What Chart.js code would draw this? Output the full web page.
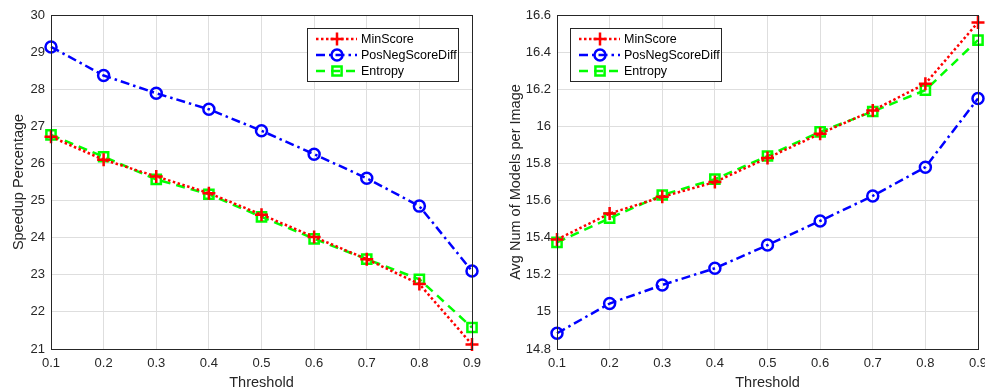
<!DOCTYPE html>
<html>
<head>
<meta charset="utf-8">
<script src="https://cdn.jsdelivr.net/npm/chart.js@4.4.1/dist/chart.umd.min.js"></script>
<style>
    html, body { margin: 0; padding: 0; background: #fff; overflow: hidden; width: 985px; height: 392px; }
    .panel { position: absolute; top: 0; width: 506px; height: 392px; }
    #leftPanel { left: 0; }
    #rightPanel { left: 506px; }
</style>
</head>
<body>
<div class="panel" id="leftPanel"><canvas id="speedupChart"></canvas></div>
<div class="panel" id="rightPanel"><canvas id="modelsChart"></canvas></div>
<script>
const thresholds = [0.1, 0.2, 0.3, 0.4, 0.5, 0.6, 0.7, 0.8, 0.9];
const seriesNames = ['MinScore', 'PosNegScoreDiff', 'Entropy'];

// Speedup Percentage
const speedupMinScore = [26.72, 26.10, 25.65, 25.20, 24.62, 24.02, 23.42, 22.75, 21.12];
const speedupPosNeg = [29.14, 28.37, 27.89, 27.46, 26.88, 26.25, 25.60, 24.85, 23.10];
const speedupEntropy = [26.77, 26.18, 25.57, 25.17, 24.56, 23.97, 23.42, 22.88, 21.58];

// Avg Num of Models per Image
const modelsMinScore = [15.39, 15.53, 15.62, 15.70, 15.83, 15.96, 16.085, 16.23, 16.56];
const modelsPosNeg = [14.885, 15.045, 15.145, 15.235, 15.36, 15.49, 15.625, 15.78, 16.15];
const modelsEntropy = [15.375, 15.505, 15.63, 15.715, 15.84, 15.97, 16.08, 16.195, 16.465];

const xTicks = [0.1, 0.2, 0.3, 0.4, 0.5, 0.6, 0.7, 0.8, 0.9];
const speedupTicks = [21, 22, 23, 24, 25, 26, 27, 28, 29, 30];
const modelsTicks = [14.8, 15, 15.2, 15.4, 15.6, 15.8, 16, 16.2, 16.4, 16.6];

const FONT = "'Liberation Sans', Arial, sans-serif";
const AXIS_COLOR = '#262626';

const styles = [
    { color: '#ff0000', dash: [2.5, 2.5], pointStyle: 'cross', radius: 6.5 },
    { color: '#0000ff', dash: [9, 4, 2.5, 4], pointStyle: 'circle', radius: 5.5 },
    { color: '#00ff00', dash: [9, 6], pointStyle: 'rect', radius: 6.5 }
];

function makeDatasets(valuesList) {
    return valuesList.map((values, i) => ({
        label: seriesNames[i],
        data: values.map((v, k) => ({ x: thresholds[k], y: v })),
        borderColor: styles[i].color,
        borderWidth: 2.5,
        borderDash: styles[i].dash,
        pointStyle: styles[i].pointStyle,
        pointRadius: styles[i].radius,
        pointBorderWidth: 2.5,
        pointBackgroundColor: 'rgba(0,0,0,0)',
        pointBorderColor: styles[i].color,
        tension: 0,
        fill: false,
        clip: false
    }));
}

function legendPlugin(side) {
    return {
        id: 'matLegend',
        afterDraw(chart) {
            const ctx = chart.ctx;
            const area = chart.chartArea;
            const w = 151, h = 53;
            const x = side === 'right' ? area.right - 14 - w : area.left + 13;
            const y = area.top + 13;
            ctx.save();
            ctx.fillStyle = '#fff';
            ctx.fillRect(x, y, w, h);
            ctx.strokeStyle = AXIS_COLOR;
            ctx.lineWidth = 1;
            ctx.strokeRect(x + 0.5, y + 0.5, w, h);
            chart.data.datasets.forEach((ds, i) => {
                const ry = y + 11 + i * 16;
                ctx.strokeStyle = ds.borderColor;
                ctx.lineWidth = 2.5;
                ctx.setLineDash(ds.borderDash);
                ctx.beginPath();
                ctx.moveTo(x + 9, ry);
                ctx.lineTo(x + 50, ry);
                ctx.stroke();
                ctx.setLineDash([]);
                ctx.fillStyle = 'rgba(0,0,0,0)';
                Chart.helpers.drawPoint(ctx, {
                    pointStyle: ds.pointStyle,
                    radius: ds.pointRadius,
                    borderWidth: 2.5,
                    rotation: 0
                }, x + 30, ry);
                ctx.fillStyle = '#000';
                ctx.font = '12.5px ' + FONT;
                ctx.textBaseline = 'middle';
                ctx.textAlign = 'left';
                ctx.fillText(ds.label, x + 54, ry + 1);
            });
            ctx.restore();
        }
    };
}

const boxPlugin = {
    id: 'axesBox',
    afterDatasetsDraw(chart) {
        const a = chart.chartArea;
        const ctx = chart.ctx;
        ctx.save();
        ctx.strokeStyle = AXIS_COLOR;
        ctx.lineWidth = 1;
        ctx.strokeRect(Math.round(a.left) + 0.5, Math.round(a.top) + 0.5,
            Math.round(a.right - a.left), Math.round(a.bottom - a.top));
        ctx.restore();
    }
};

function makeChart(canvasId, valuesList, yTicks, yTitle, titlePad, legendSide, decimals) {
    const ctx = document.getElementById(canvasId).getContext('2d');
    return new Chart(ctx, {
        type: 'line',
        data: { datasets: makeDatasets(valuesList) },
        options: {
            responsive: true,
            maintainAspectRatio: false,
            animation: false,
            layout: { padding: { top: 15, right: 34, left: 0, bottom: 0 } },
            plugins: { legend: { display: false }, tooltip: { enabled: false } },
            scales: {
                x: {
                    type: 'linear',
                    min: xTicks[0],
                    max: xTicks[xTicks.length - 1],
                    afterBuildTicks: s => { s.ticks = xTicks.map(v => ({ value: v })); },
                    afterFit: s => { s.height = 43; },
                    grid: { color: '#dedede', drawTicks: false },
                    border: { color: AXIS_COLOR },
                    ticks: {
                        color: AXIS_COLOR,
                        font: { family: FONT, size: 13 },
                        padding: 7,
                        maxRotation: 0,
                        callback: v => v.toFixed(1)
                    },
                    title: {
                        display: true,
                        text: 'Threshold',
                        color: AXIS_COLOR,
                        font: { family: FONT, size: 14.5 },
                        padding: { top: 1, bottom: 0 }
                    }
                },
                y: {
                    type: 'linear',
                    min: yTicks[0],
                    max: yTicks[yTicks.length - 1],
                    afterBuildTicks: s => { s.ticks = yTicks.map(v => ({ value: v })); },
                    afterFit: s => { s.width = 51; },
                    grid: { color: '#dedede', drawTicks: false },
                    border: { color: AXIS_COLOR },
                    ticks: {
                        color: AXIS_COLOR,
                        font: { family: FONT, size: 13 },
                        padding: 6,
                        callback: v => decimals ? (Math.abs(v - Math.round(v)) < 1e-9 ? String(Math.round(v)) : v.toFixed(1)) : String(v)
                    },
                    title: {
                        display: true,
                        text: yTitle,
                        color: AXIS_COLOR,
                        font: { family: FONT, size: 14.5 },
                        padding: titlePad
                    }
                }
            }
        },
        plugins: [boxPlugin, legendPlugin(legendSide)]
    });
}

makeChart('speedupChart', [speedupMinScore, speedupPosNeg, speedupEntropy],
    speedupTicks, 'Speedup Percentage', { top: 10, bottom: 0 }, 'right', false);
makeChart('modelsChart', [modelsMinScore, modelsPosNeg, modelsEntropy],
    modelsTicks, 'Avg Num of Models per Image', { top: 1, bottom: 0 }, 'left', true);
</script>
</body>
</html>
